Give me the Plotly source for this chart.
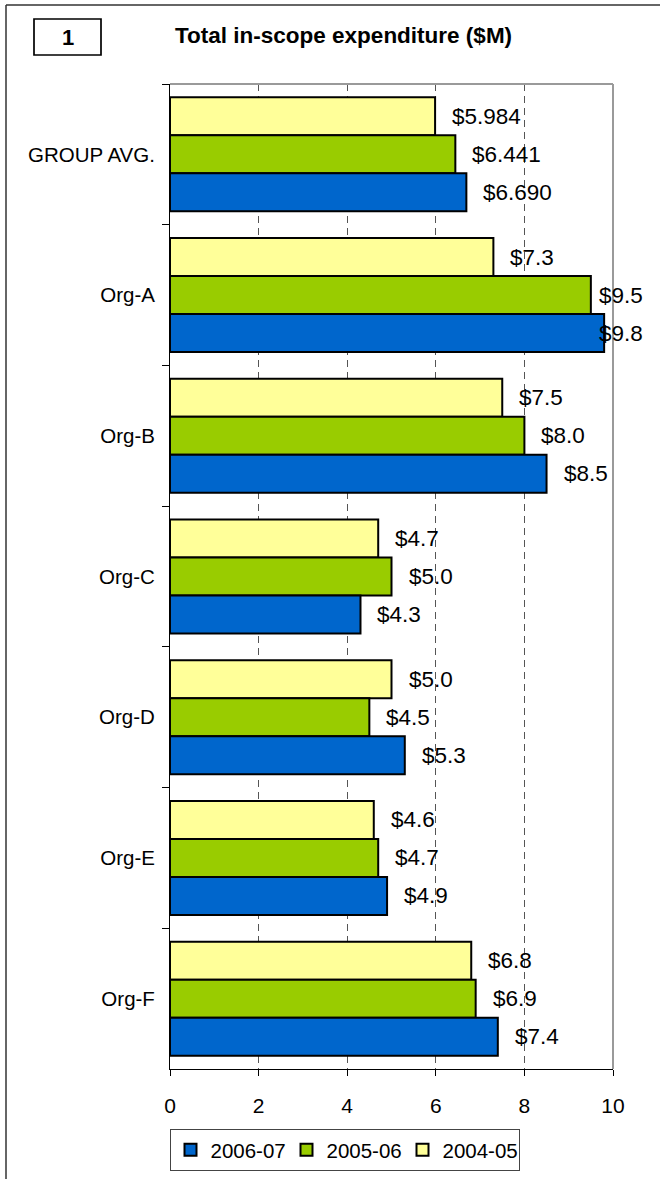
import plotly.graph_objects as go

# ---------------- data ----------------
categories = ["GROUP AVG.", "Org-A", "Org-B", "Org-C", "Org-D", "Org-E", "Org-F"]
series_names = ["2004-05", "2005-06", "2006-07"]
values_2004_05 = [5.984, 7.3, 7.5, 4.7, 5.0, 4.6, 6.8]
values_2005_06 = [6.441, 9.5, 8.0, 5.0, 4.5, 4.7, 6.9]
values_2006_07 = [6.690, 9.8, 8.5, 4.3, 5.3, 4.9, 7.4]
x_tick_values = [0, 2, 4, 6, 8, 10]
chart_title = "Total in-scope expenditure ($M)"
chart_number = "1"

# ---------------- style ----------------
colors = ["#FFFF99", "#99CC00", "#0066CC"]
FONT = "Liberation Sans, Arial, sans-serif"
W, H = 660, 1179
L, R, T, B = 170, 47, 84, 110
PW, PH = W - L - R, H - T - B
XMAX = 10
BARGAP = 0.19


def px(x):
    return (x - L) / PW


def py(y):
    return (H - B - y) / PH


series_values = [values_2004_05, values_2005_06, values_2006_07]

fig = go.Figure()
for name, vals, col in zip(series_names, series_values, colors):
    fig.add_trace(go.Bar(
        y=categories, x=vals, orientation="h", name=name,
        marker=dict(color=col, line=dict(color="black", width=2)),
    ))

# data labels
bar_px = PH / len(categories) * (1 - BARGAP) / 3
scale = XMAX / PW
annotations = []
for si, vals in enumerate(series_values):
    yshift = (1 - si) * bar_px
    for ci, v in enumerate(vals):
        txt = f"${v:.3f}" if ci == 0 else f"${v:.1f}"
        annotations.append(dict(
            x=min(v + 15 * scale, 9.64), y=categories[ci], xref="x", yref="y",
            text=txt, showarrow=False, xanchor="left", yanchor="middle",
            yshift=yshift, font=dict(family=FONT, size=22.5, color="black"),
        ))

# title and number box
annotations.append(dict(
    x=px(173), y=py(36), xref="paper", yref="paper", text=f"<b>{chart_title}</b>",
    showarrow=False, xanchor="left", yanchor="middle",
    font=dict(family=FONT, size=22.5, color="black"),
))
annotations.append(dict(
    x=px(67.5), y=py(37), xref="paper", yref="paper", text=f"<b>{chart_number}</b>",
    showarrow=False, xanchor="center", yanchor="middle",
    font=dict(family=FONT, size=22, color="black"),
))

shapes = [
    # outer frame (top and left visible)
    dict(type="line", xref="paper", yref="paper", x0=px(6), x1=px(700), y0=py(5), y1=py(5),
         line=dict(color="#333333", width=1.5)),
    dict(type="line", xref="paper", yref="paper", x0=px(6), x1=px(6), y0=py(5), y1=py(1200),
         line=dict(color="#333333", width=1.5)),
    # number box
    dict(type="rect", xref="paper", yref="paper", x0=px(34), x1=px(101), y0=py(19), y1=py(55),
         line=dict(color="black", width=1.7)),
    # plot area top & right border (gray)
    dict(type="line", xref="paper", yref="paper", x0=0, x1=1, y0=1, y1=1,
         line=dict(color="#9a9a9a", width=2), layer="above"),
    dict(type="line", xref="paper", yref="paper", x0=1, x1=1, y0=0, y1=1,
         line=dict(color="#9a9a9a", width=2), layer="above"),
]

fig.update_layout(
    width=W, height=H,
    margin=dict(l=L, r=R, t=T, b=B, autoexpand=False),
    paper_bgcolor="white", plot_bgcolor="white",
    barmode="group", bargap=BARGAP, bargroupgap=0,
    font=dict(family=FONT, size=21, color="black"),
    showlegend=True,
    legend=dict(
        orientation="h", x=px(344.5), xanchor="center", y=py(1129), yanchor="top",
        traceorder="reversed", bordercolor="#444444", borderwidth=1, bgcolor="white",
        entrywidth=71, entrywidthmode="pixels",
        font=dict(family=FONT, size=20.5, color="black"),
    ),
    annotations=annotations,
    shapes=shapes,
)

fig.update_xaxes(
    range=[0, XMAX], tickvals=x_tick_values, ticks="outside", ticklen=6,
    tickcolor="black", tickwidth=1, showline=True, linecolor="black", linewidth=1,
    showgrid=True, gridcolor="#555555", gridwidth=1, griddash="7px,5px",
    zeroline=False, ticklabelstandoff=12,
    tickfont=dict(family=FONT, size=21, color="black"),
)
fig.update_yaxes(
    autorange="reversed", type="category", ticks="outside", ticklen=7,
    tickson="boundaries", tickcolor="black", tickwidth=1,
    showline=True, linecolor="black", linewidth=1, showgrid=False, zeroline=False,
    ticklabelstandoff=10,
    tickfont=dict(family=FONT, size=20.5, color="black"),
)

fig.write_html(
    "out.html",
    config={"displayModeBar": False},
    post_script="document.body.style.margin='0';",
)
